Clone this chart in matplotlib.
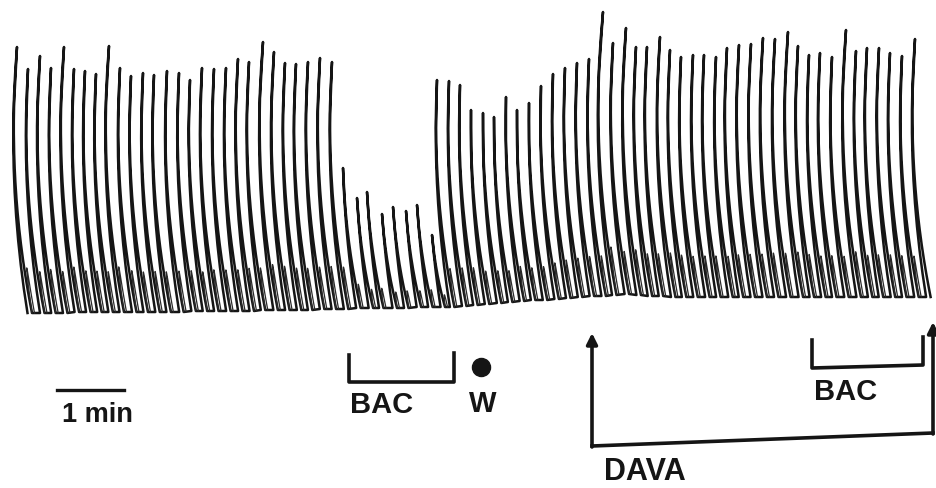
import numpy as np
import matplotlib
matplotlib.use("Agg")
import matplotlib.pyplot as plt


# x position of each contraction peak on the chart (paper time, px) and
# the y of its tip; baseline is the resting level under each contraction
peak_x = [17, 28, 40, 51, 64, 74, 85, 96, 109, 120, 131, 143, 154, 167,
          179, 190, 202, 214, 226, 238, 249, 263, 274, 285, 296, 308, 320, 332,
          343, 357, 367, 382, 393, 406, 417, 432,
          437, 449, 460, 471, 483, 494, 506, 517, 529, 541, 553, 565, 577, 589,
          603, 613, 626, 636, 647, 660, 670, 681, 693, 704, 716, 727, 739, 751,
          763, 775, 788, 798, 809, 820, 832, 846, 856, 867, 879, 890, 902, 915]
peak_top = [47, 69, 56, 68, 47, 69, 71, 74, 46, 68, 76, 73, 75, 71,
            73, 80, 68, 69, 68, 59, 62, 42, 52, 63, 64, 62, 58, 62,
            168, 198, 192, 214, 207, 211, 205, 235,
            80, 81, 85, 110, 113, 117, 97, 110, 103, 86, 74, 68, 63, 59,
            12, 43, 28, 47, 47, 37, 50, 57, 55, 55, 57, 48, 45, 44,
            38, 39, 32, 46, 55, 53, 57, 30, 51, 48, 48, 53, 56, 39]
baseline = [313, 313, 313, 313, 312, 312, 312, 312, 312, 312, 312, 312, 312, 312,
            311, 311, 311, 311, 311, 311, 310, 310, 310, 310, 310, 309, 309, 309,
            308, 308, 308, 308, 308, 307, 307, 307,
            307, 306, 305, 304, 303, 302, 301, 300, 300, 299, 298, 297, 296, 296,
            295, 294, 295, 296, 296, 297, 297, 297, 297, 297, 297, 297, 297, 297,
            297, 297, 297, 297, 297, 297, 297, 297, 297, 297, 297, 297, 297, 297]

# event marks under the trace (x in the same paper-time units)
bac1 = (349, 454)
wash_x = 481
dava = (592, 933)
bac2 = (812, 923)
scale_bar = (57, 124)   # 1 min


def pen_offset(h):
    # the recording lever writes an arc, so the pen tip drifts with height
    return 4.6e-4 * (h - 180.0) ** 2


n = len(peak_x)
amp = [b - t for b, t in zip(baseline, peak_top)]
t_peak = [x - pen_offset(a) for x, a in zip(peak_x, amp)]

main_x, main_y = [], []
humps = []
for i in range(n):
    a = amp[i]
    tp = t_peak[i]
    t_end = t_peak[i + 1] - 1 if i + 1 < n else tp + 3.5
    s_r = np.linspace(0, 1, 12)
    s_f = np.linspace(0, 1, 50)
    t = np.concatenate([tp - 1 + s_r, tp + 3.5 * s_f])
    h = np.concatenate([a * s_r, a * (1 - s_f ** 0.4)])
    main_x.append(t + pen_offset(h))
    main_y.append(baseline[i] - h)
    # small after-beat drawn thin (fast pen)
    s_h = np.linspace(0, 1, 20)
    th = tp + 3.5 + 2.5 * s_h
    hh = 0.17 * a * np.sin(np.pi * s_h)
    keep = th < t_end
    if keep.sum() > 2:
        humps.append((th[keep] + pen_offset(hh[keep]), baseline[i] - hh[keep]))

trace_x = np.concatenate(main_x)
trace_y = np.concatenate(main_y)

fig = plt.figure(figsize=(9.37, 4.88), dpi=100)
ax = fig.add_axes([0, 0, 1, 1])
ax.set_xlim(0, 937)
ax.set_ylim(488, 0)
ax.axis("off")

ink = "#151515"
ax.plot(trace_x, trace_y, color=ink, lw=1.8, solid_joinstyle="round")
for hx, hy in humps:
    ax.plot(hx, hy, color="#2a2a2a", lw=0.9)

txt = dict(family="Liberation Sans", weight="bold", color=ink,
           ha="center", va="center")

# 1 min scale bar
ax.plot(scale_bar, [390, 390], color=ink, lw=2.4)
ax.text(97, 415, "1 min", fontsize=19.5, **txt)

# first BAC bracket and wash dot
ax.plot([bac1[0], bac1[0], bac1[1], bac1[1]], [355, 382, 382, 353],
        color=ink, lw=2.6)
ax.text(382, 405, "BAC", fontsize=21, **txt)
ax.plot([wash_x], [367], "o", color=ink, ms=13)
ax.text(483, 404, "W", fontsize=21, **txt)

# DAVA bracket with arrows
arrow = dict(arrowstyle="-|>", lw=2.6, color=ink, mutation_scale=16,
             shrinkA=0, shrinkB=0)
ax.annotate("", xy=(dava[0], 333), xytext=(dava[0], 447), arrowprops=arrow)
ax.annotate("", xy=(dava[1], 322), xytext=(dava[1], 434), arrowprops=arrow)
ax.plot([dava[0], dava[1]], [446, 433], color=ink, lw=2.6)
ax.text(645, 472, "DAVA", fontsize=22, **txt)

# second BAC bracket
ax.plot([bac2[0], bac2[0], bac2[1], bac2[1]], [340, 368, 365, 337],
        color=ink, lw=2.6)
ax.text(846, 392, "BAC", fontsize=21, **txt)

fig.savefig("out.png", dpi=100, facecolor="white")
